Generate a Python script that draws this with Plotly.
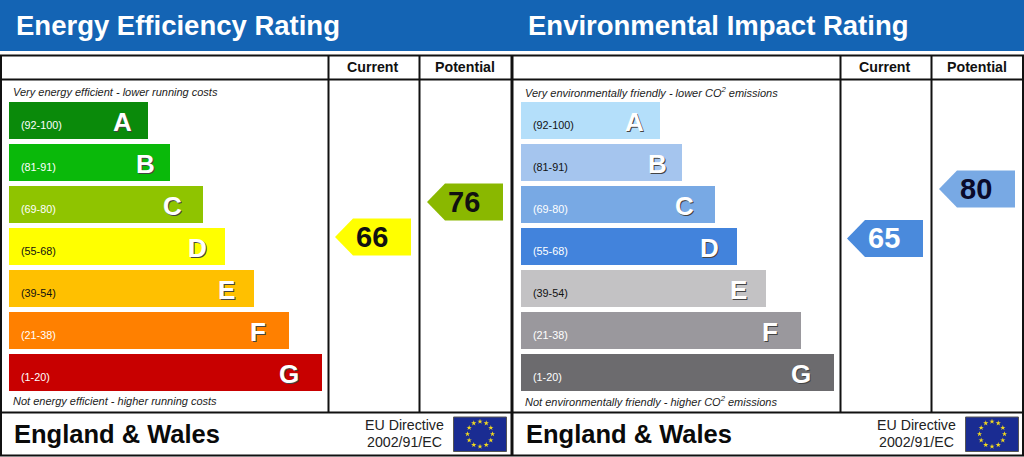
import numpy as np
import plotly.graph_objects as go

titles = ["Energy Efficiency Rating", "Environmental Impact Rating"]
columns = ["Current", "Potential"]
ranges = ["(92-100)", "(81-91)", "(69-80)", "(55-68)", "(39-54)", "(21-38)", "(1-20)"]
letters = ["A", "B", "C", "D", "E", "F", "G"]
band_lengths = [139, 161, 194, 216, 245, 280, 313]
letter_insets = [26, 25, 31, 28, 28, 31, 33]

energy_colors = ["#0a8a0a", "#0ab90a", "#8fc400", "#ffff00", "#ffc000", "#ff8000", "#c80000"]
energy_range_colors = ["#ffffff", "#ffffff", "#ffffff", "#111111", "#111111", "#ffffff", "#ffffff"]
energy_ratings = [66, 76]
energy_arrow_colors = ["#ffff00", "#8ab800"]
energy_arrow_text = ["#111111", "#111111"]

impact_colors = ["#b4dffa", "#a5c5ee", "#78a9e4", "#4283dc", "#c3c2c4", "#9a989d", "#6c6b6e"]
impact_range_colors = ["#111111", "#111111", "#ffffff", "#ffffff", "#111111", "#ffffff", "#ffffff"]
impact_ratings = [65, 80]
impact_arrow_colors = ["#4a8adc", "#78a9e4"]
impact_arrow_text = ["#ffffff", "#0a0a2a"]

top_notes = ["Very energy efficient - lower running costs", "Very environmentally friendly - lower CO<sup>2</sup> emissions"]
bottom_notes = ["Not energy efficient - higher running costs", "Not environmentally friendly - higher CO<sup>2</sup> emissions"]
footer = "England &amp; Wales"
directive = ["EU Directive", "2002/91/EC"]

FONT = "Liberation Sans"
PANEL_OFFSET = 512
BAND_TOP = 120.5
BAND_STEP = 42

fig = go.Figure()


def text(x, y, s, size, color="#000000", bold=False, italic=False, anchor="center"):
    if bold:
        s = f"<b>{s}</b>"
    if italic:
        s = f"<i>{s}</i>"
    fig.add_annotation(x=x, y=y, text=s, showarrow=False, xanchor=anchor, yanchor="middle",
                       borderpad=0, borderwidth=0,
                       font=dict(family=FONT, size=size, color=color))


def line(x0, y0, x1, y1, width=2):
    fig.add_shape(type="line", x0=x0, y0=y0, x1=x1, y1=y1, line=dict(color="#111111", width=width))


def draw_panel(off, colors, range_colors, ratings, arrow_colors, arrow_text, title, top_note, bottom_note, y_at):
    # header strip
    fig.add_shape(type="rect", x0=off, x1=off + 512, y0=0, y1=51, fillcolor="#1464b4", line_width=0, layer="below")
    text(off + 15.5, 25, title, 27.5, "#ffffff", bold=True, anchor="left")

    # table lines
    line(off, 55.5, off + 512, 55.5)
    line(off, 79.5, off + 512, 79.5)
    line(off, 412.5, off + 512, 412.5)
    line(off, 455.5, off + 512, 455.5)
    line(off + 328.5, 55, off + 328.5, 412)
    line(off + 419.5, 55, off + 419.5, 412)
    for i, col in enumerate(columns):
        text(off + [373, 465][i], 66.5, col, 14.2, "#111111", bold=True)

    text(off + 13, 91.5, top_note, 11, "#222222", italic=True, anchor="left")
    text(off + 13, 400.5, bottom_note, 11, "#222222", italic=True, anchor="left")

    ys = [BAND_TOP + BAND_STEP * i for i in range(len(letters))]
    fig.add_trace(go.Bar(x=band_lengths, y=ys, base=off + 9, orientation="h", width=37,
                         marker=dict(color=colors, line_width=0), hoverinfo="skip"))
    for i, y in enumerate(ys):
        text(off + 21, y + 4, ranges[i], 10.8, range_colors[i], anchor="left")
        cx = off + 9 + band_lengths[i] - letter_insets[i]
        text(cx + 1, y + 2, letters[i], 26, "#444444", bold=True)
        text(cx, y + 1, letters[i], 26, "#ffffff", bold=True)

    # rating arrows
    for i, rating in enumerate(ratings):
        right = off + [411, 503][i]
        yc = y_at(rating)
        fig.add_trace(go.Scatter(
            x=[right, right, right - 58, right - 76, right - 58, right],
            y=[yc - 18.5, yc + 18.5, yc + 18.5, yc, yc - 18.5, yc - 18.5],
            mode="lines", fill="toself", fillcolor=arrow_colors[i], line_width=0, hoverinfo="skip"))
        text(right - 39, yc - 0.5, str(rating), 29, arrow_text[i], bold=True)

    # footer
    text(off + 14, 434, footer, 25.5, "#0a0a0a", bold=True, anchor="left")
    text(off + 404, 425, directive[0], 14.2, "#222222")
    text(off + 404, 442, directive[1], 14.2, "#222222")
    # flag goes under the trace layer so the stars show on top of it
    fig.add_shape(type="rect", x0=off + 453.5, x1=off + 506.5, y0=417, y1=451.5, fillcolor="#1a2c92",
                  line=dict(color="#555555", width=1), layer="below")
    angles = np.arange(12) * np.pi / 6
    fig.add_trace(go.Scatter(x=off + 480 + 12.5 * np.cos(angles), y=434 + 12.5 * np.sin(angles), mode="markers",
                             marker=dict(symbol="star", size=4, color="#f0d820"), hoverinfo="skip"))


draw_panel(0, energy_colors, energy_range_colors, energy_ratings, energy_arrow_colors, energy_arrow_text,
           titles[0], top_notes[0], bottom_notes[0], lambda r: 202 + (76 - r) * 3.5)
draw_panel(PANEL_OFFSET, impact_colors, impact_range_colors, impact_ratings, impact_arrow_colors, impact_arrow_text,
           titles[1], top_notes[1], bottom_notes[1], lambda r: 189 + (80 - r) * 3.3)

# outer frame lines
line(1, 55, 1, 456)
line(512, 55, 512, 456, 3)
line(1023, 55, 1023, 456)

fig.update_layout(
    width=1024, height=457, margin=dict(l=0, r=0, t=0, b=0),
    paper_bgcolor="#ffffff", plot_bgcolor="#ffffff", showlegend=False, barmode="overlay",
    xaxis=dict(range=[0, 1024], visible=False, fixedrange=True),
    yaxis=dict(range=[457, 0], visible=False, fixedrange=True),
)
# default page margin would shift the picture by 8px
fig.write_html("out.html", config={"displayModeBar": False},
               post_script="document.body.style.margin='0';document.body.style.overflow='hidden';")
